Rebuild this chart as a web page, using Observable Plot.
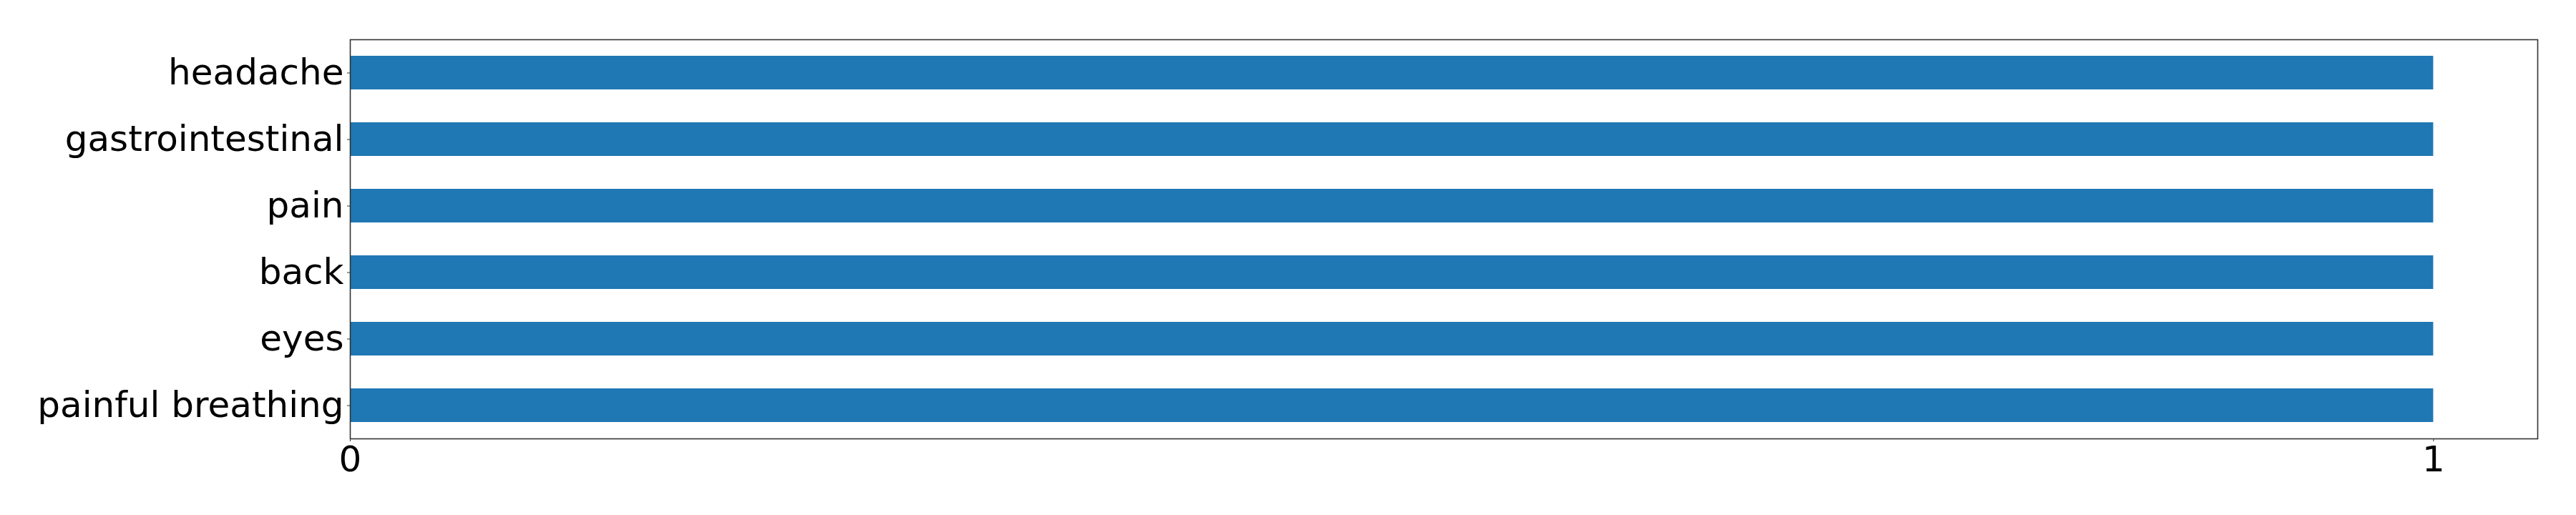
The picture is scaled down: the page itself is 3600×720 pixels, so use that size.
<!DOCTYPE html>
<html>
<head>
<meta charset="utf-8">
<script src="https://cdn.jsdelivr.net/npm/d3@7"></script>
<script src="https://cdn.jsdelivr.net/npm/@observablehq/plot@0.6"></script>
<style>
  html, body { margin: 0; padding: 0; background: #fff; }
</style>
</head>
<body>
<div id="chart"></div>
<script>
const categories = ["headache", "gastrointestinal", "pain", "back", "eyes", "painful breathing"];
const values = [1, 1, 1, 1, 1, 1];
const xTicks = [0, 1];

const data = categories.map((c, i) => ({category: c, value: values[i]}));

const chart = Plot.plot({
  width: 3600,
  height: 720,
  marginLeft: 489,
  marginRight: 54,
  marginTop: 55,
  marginBottom: 107,
  style: {fontFamily: "DejaVu Sans", background: "#fff", color: "#000"},
  x: {domain: [0, 1.05], range: [489, 3546]},
  y: {domain: categories, paddingInner: 0.5, paddingOuter: 0.25},
  marks: [
    Plot.barX(data, {x: "value", y: "category", fill: "#1f77b4"}),
    Plot.frame({stroke: "#333", strokeWidth: 1.6}),
    Plot.axisY({tickSize: 4, tickPadding: 5, fontSize: 50, label: null, stroke: "#333"}),
    Plot.axisX({ticks: xTicks, tickFormat: d3.format("d"), tickSize: 4, tickPadding: 6, fontSize: 50, label: null, stroke: "#333"})
  ]
});
document.getElementById("chart").appendChild(chart);
</script>
</body>
</html>
